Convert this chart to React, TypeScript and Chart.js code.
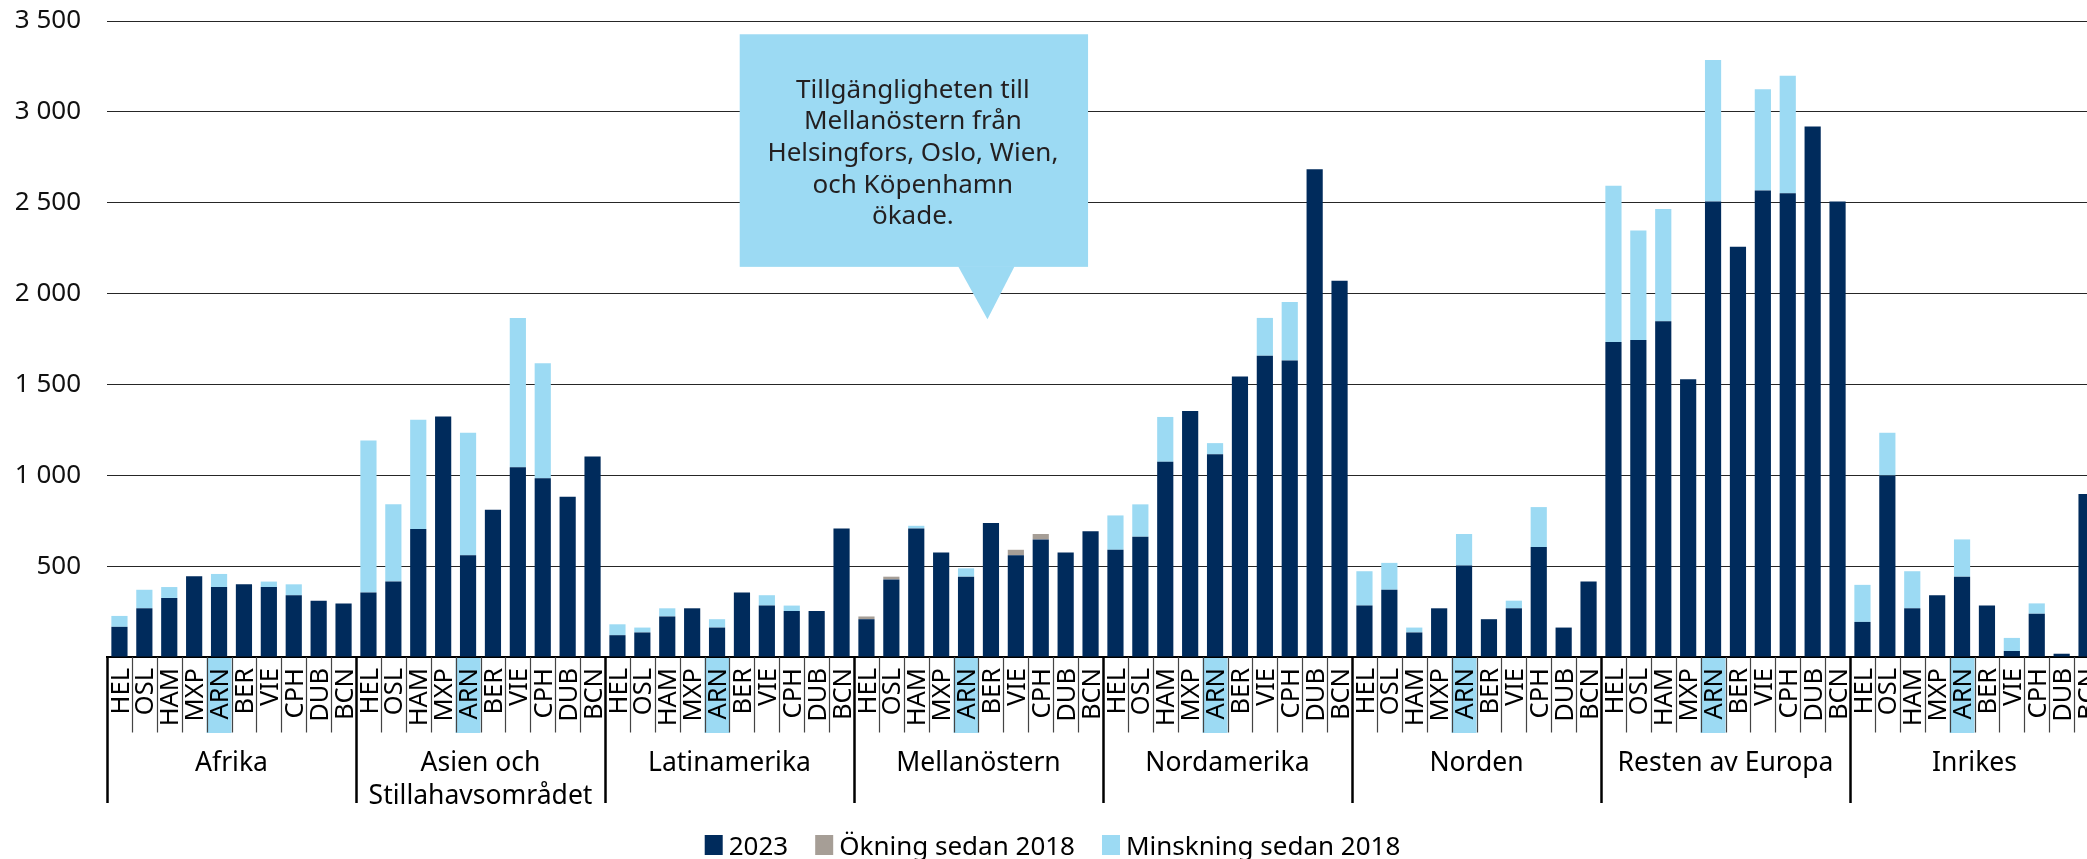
import React, { useEffect, useRef } from "react";
import { Chart, registerables } from "chart.js";

Chart.register(...registerables);

// ---------- data ----------
const AIRPORTS = ["HEL", "OSL", "HAM", "MXP", "ARN", "BER", "VIE", "CPH", "DUB", "BCN"];
const HIGHLIGHT = "ARN";
const REGIONS: string[][] = [
  ["Afrika"],
  ["Asien och", "Stillahavsområdet"],
  ["Latinamerika"],
  ["Mellanöstern"],
  ["Nordamerika"],
  ["Norden"],
  ["Resten av Europa"],
  ["Inrikes"],
];
const SERIES_LABELS = ["2023", "Ökning sedan 2018", "Minskning sedan 2018"];

// 2023 values, per region (HEL, OSL, HAM, MXP, ARN, BER, VIE, CPH, DUB, BCN)
const VALUES_2023 = [
  166, 268, 325, 445, 385, 400, 385, 340, 310, 295, // Afrika
  355, 415, 704, 1324, 560, 810, 1044, 984, 882, 1104, // Asien
  120, 135, 223, 268, 162, 355, 283, 253, 253, 707, // Latinamerika
  208, 427, 707, 575, 442, 737, 560, 647, 575, 692, // Mellanöstern
  590, 662, 1074, 1354, 1116, 1544, 1658, 1631, 2684, 2070, // Nordamerika
  283, 370, 135, 268, 503, 208, 268, 605, 162, 415, // Norden
  1733, 1745, 1848, 1529, 2507, 2257, 2567, 2552, 2919, 2507, // Resten av Europa
  193, 999, 268, 340, 442, 283, 33, 238, 18, 897, // Inrikes
];
const INCREASE = [
  0, 0, 0, 0, 0, 0, 0, 0, 0, 0,
  0, 0, 0, 0, 0, 0, 0, 0, 0, 0,
  0, 0, 0, 0, 0, 0, 0, 0, 0, 0,
  15, 15, 0, 0, 0, 0, 30, 30, 0, 0,
  0, 0, 0, 0, 0, 0, 0, 0, 0, 0,
  0, 0, 0, 0, 0, 0, 0, 0, 0, 0,
  0, 0, 0, 0, 0, 0, 0, 0, 0, 0,
  0, 0, 0, 0, 0, 0, 0, 0, 0, 0,
];
const DECREASE = [
  60, 102, 60, 0, 72, 0, 30, 60, 0, 0,
  837, 425, 602, 0, 674, 0, 822, 632, 0, 0,
  60, 27, 45, 0, 46, 0, 57, 30, 0, 0,
  0, 0, 15, 0, 46, 0, 0, 0, 0, 0,
  189, 178, 247, 0, 61, 0, 208, 322, 0, 0,
  189, 148, 27, 0, 174, 0, 42, 220, 0, 0,
  861, 602, 617, 0, 779, 0, 557, 647, 0, 0,
  204, 235, 204, 0, 205, 0, 72, 57, 0, 0,
];
const Y_MAX = 3500;
const Y_STEP = 500;

const CALLOUT_LINES = [
  "Tillgängligheten till",
  "Mellanöstern från",
  "Helsingfors, Oslo, Wien,",
  "och Köpenhamn",
  "ökade.",
];

// ---------- style ----------
const NAVY = "#002b5c";
const GRAY = "#a69e96";
const LIGHT = "#9cdaf3";
const FONT = "'Noto Sans', 'Open Sans', sans-serif";
const COLORS = [NAVY, GRAY, LIGHT];

const CATEGORIES = REGIONS.flatMap(() => AIRPORTS);

const overlayPlugin = {
  id: "overlay",
  afterDraw(chart: any) {
    const { ctx, scales } = chart;
    const x = scales.x;
    const y = scales.y;
    const n = CATEGORIES.length;
    const catW = x.getPixelForValue(1) - x.getPixelForValue(0);
    const base = y.getPixelForValue(0);
    const xAt = (c: number) => x.getPixelForValue(c);
    ctx.save();

    // highlight cells
    CATEGORIES.forEach((lab, i) => {
      if (lab === HIGHLIGHT) {
        const left = xAt(i) - catW / 2;
        ctx.fillStyle = LIGHT;
        ctx.fillRect(left, base + 1, catW, 75);
      }
    });

    // separators
    for (let i = 0; i <= n; i++) {
      const sx = Math.round(xAt(i) - catW / 2) + 0.5;
      ctx.beginPath();
      if (i % AIRPORTS.length === 0) {
        ctx.strokeStyle = "#000";
        ctx.lineWidth = 2.5;
        ctx.moveTo(sx, base);
        ctx.lineTo(sx, base + 146);
      } else {
        ctx.strokeStyle = "#444";
        ctx.lineWidth = 1.2;
        ctx.moveTo(sx, base);
        ctx.lineTo(sx, base + 75.5);
      }
      ctx.stroke();
    }

    // airport labels (rotated)
    const tickSize = 25.5;
    ctx.font = `${tickSize}px ${FONT}`;
    ctx.fillStyle = "#000";
    ctx.textAlign = "right";
    ctx.textBaseline = "alphabetic";
    const cap = tickSize * 0.714;
    CATEGORIES.forEach((lab, i) => {
      ctx.save();
      ctx.translate(xAt(i), base + 11);
      ctx.rotate(-Math.PI / 2);
      ctx.fillText(lab, 0, cap / 2);
      ctx.restore();
    });

    // group labels
    ctx.font = `26.5px ${FONT}`;
    ctx.textAlign = "center";
    REGIONS.forEach((lines, g) => {
      const i0 = g * AIRPORTS.length;
      const cx = (xAt(i0) + xAt(i0 + AIRPORTS.length - 1)) / 2;
      lines.forEach((ln, k) => {
        ctx.fillText(ln, cx, base + 113.5 + k * 33);
      });
    });

    // callout
    const bx0 = xAt(24.91);
    const bx1 = xAt(38.9);
    const by0 = y.getPixelForValue(3427);
    const by1 = y.getPixelForValue(2147);
    ctx.fillStyle = LIGHT;
    ctx.fillRect(bx0, by0, bx1 - bx0, by1 - by0);
    ctx.beginPath();
    ctx.moveTo(xAt(33.68), by1 - 0.5);
    ctx.lineTo(xAt(35.95), by1 - 0.5);
    ctx.lineTo(xAt(34.86), y.getPixelForValue(1858));
    ctx.closePath();
    ctx.fill();
    ctx.fillStyle = "#231f20";
    ctx.font = `26px ${FONT}`;
    ctx.textAlign = "center";
    const tcx = (bx0 + bx1) / 2 - 1;
    CALLOUT_LINES.forEach((ln, k) => {
      ctx.fillText(ln, tcx, by0 + 63.3 + k * 31.7);
    });

    // legend
    ctx.font = `26px ${FONT}`;
    ctx.textAlign = "left";
    const boxW = 18;
    const boxH = 20;
    const gap = 6;
    const itemGap = 27;
    const widths = SERIES_LABELS.map((t) => boxW + gap + ctx.measureText(t).width);
    const total = widths.reduce((a, b) => a + b, 0) + itemGap * (widths.length - 1);
    let lx = chart.width / 2 - total / 2;
    const ly = chart.height - 4;
    SERIES_LABELS.forEach((t, k) => {
      ctx.fillStyle = COLORS[k];
      ctx.fillRect(lx, ly - boxH, boxW, boxH);
      ctx.fillStyle = "#000";
      ctx.fillText(t, lx + boxW + gap, ly);
      lx += widths[k] + itemGap;
    });

    ctx.restore();
  },
};

function fmt(v: number): string {
  if (v === 0) return "";
  return String(v).replace(/\B(?=(\d{3})+(?!\d))/g, " ");
}

export default function App() {
  const ref = useRef<HTMLCanvasElement | null>(null);

  useEffect(() => {
    document.body.style.overflow = "hidden";
    const canvas = ref.current;
    if (!canvas) return;
    const chart = new Chart(canvas, {
      type: "bar",
      data: {
        labels: CATEGORIES,
        datasets: [
          { label: SERIES_LABELS[0], data: VALUES_2023, backgroundColor: NAVY },
          { label: SERIES_LABELS[1], data: INCREASE, backgroundColor: GRAY },
          { label: SERIES_LABELS[2], data: DECREASE, backgroundColor: LIGHT },
        ].map((d) => ({ ...d, barPercentage: 0.65, categoryPercentage: 1, borderWidth: 0 })),
      },
      options: {
        responsive: false,
        animation: false,
        devicePixelRatio: 1,
        layout: { padding: { top: 21, right: 6, left: 0, bottom: 0 } },
        plugins: {
          legend: { display: false },
          tooltip: { enabled: false },
        },
        scales: {
          x: {
            type: "category",
            stacked: true,
            offset: true,
            grid: { display: false },
            ticks: { display: false },
            border: { display: true, color: "#000", width: 2 },
            afterFit: (s: any) => {
              s.height = 202;
            },
          },
          y: {
            stacked: true,
            min: 0,
            max: Y_MAX,
            ticks: {
              stepSize: Y_STEP,
              padding: 26,
              color: "#111",
              font: { family: FONT, size: 26 },
              callback: (v: any) => fmt(Number(v)),
            },
            grid: { color: "#262626", lineWidth: 1, drawTicks: false },
            border: { display: false },
            afterFit: (s: any) => {
              s.width = 107;
              s.paddingTop = 0;
              s.paddingBottom = 0;
            },
          },
        },
      },
      plugins: [overlayPlugin],
    });
    return () => chart.destroy();
  }, []);

  return (
    <div
      style={{
        position: "absolute",
        left: 0,
        top: 0,
        width: 2087,
        height: 859,
        overflow: "hidden",
        background: "#fff",
      }}
    >
      <canvas ref={ref} width={2105} height={859} style={{ display: "block" }} />
    </div>
  );
}
